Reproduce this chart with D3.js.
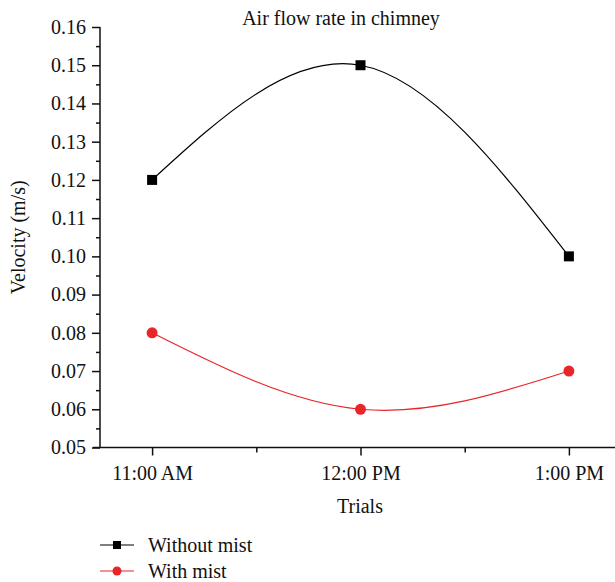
<!DOCTYPE html>
<html>
<head>
<meta charset="utf-8">
<script src="https://cdn.jsdelivr.net/npm/d3@7"></script>
<style>
  body { margin: 0; background: #fff; }
  svg text { font-family: "Liberation Serif", "DejaVu Serif", serif; fill: #111; }
  .axis path, .axis line { stroke: #111; stroke-width: 1.5; }
</style>
</head>
<body>
<div id="viz"></div>
<script>
// Data
const trials = ["11:00 AM", "12:00 PM", "1:00 PM"];
const withoutMist = [0.12, 0.15, 0.10];
const withMist = [0.08, 0.06, 0.07];
const yTicks = [0.05, 0.06, 0.07, 0.08, 0.09, 0.10, 0.11, 0.12, 0.13, 0.14, 0.15, 0.16];
const seriesNames = ["Without mist", "With mist"];

// Geometry
const width = 615, height = 582;
const plotLeft = 100, plotRight = 621, plotTop = 27, plotBottom = 447.5;
const fontSize = "20px";

const svg = d3.select("#viz").append("svg")
  .attr("width", width).attr("height", height);

const x = d3.scaleLinear().domain([-0.25, 2.25]).range([plotLeft, plotRight]);
const y = d3.scaleLinear().domain([0.05, 0.16]).range([plotBottom, plotTop]);

// minor ticks
const yMinor = d3.range(0.055, 0.16, 0.01);
svg.append("g").attr("class", "axis")
  .attr("transform", "translate(" + plotLeft + ",0)")
  .call(d3.axisLeft(y).tickValues(yMinor).tickSize(4).tickFormat(""))
  .call(g => g.select(".domain").remove());
svg.append("g").attr("class", "axis")
  .attr("transform", "translate(0," + plotBottom + ")")
  .call(d3.axisBottom(x).tickValues([0.5, 1.5]).tickSize(5).tickFormat(""))
  .call(g => g.select(".domain").remove());

// Y axis
const yAxisG = svg.append("g").attr("class", "axis")
  .attr("transform", "translate(" + plotLeft + ",0)")
  .call(d3.axisLeft(y).tickValues(yTicks).tickSize(8).tickPadding(6)
    .tickFormat(d3.format(".2f")).tickSizeOuter(0));
yAxisG.selectAll("text").style("font-size", fontSize).attr("fill", "#111");
yAxisG.select(".domain").attr("d", "M0," + plotBottom + "V" + plotTop);

// X axis
const xAxisG = svg.append("g").attr("class", "axis")
  .attr("transform", "translate(0," + plotBottom + ")")
  .call(d3.axisBottom(x).tickValues([0, 1, 2]).tickSize(8).tickPadding(10)
    .tickFormat(i => trials[i]).tickSizeOuter(0));
xAxisG.selectAll("text").style("font-size", fontSize).attr("fill", "#111");
xAxisG.select(".domain").attr("d", "M" + (plotLeft - 7) + ",0H" + plotRight);

// Labels
svg.append("text").attr("x", 341).attr("y", 25)
  .attr("text-anchor", "middle").style("font-size", fontSize)
  .text("Air flow rate in chimney");
svg.append("text").attr("x", 360).attr("y", 513)
  .attr("text-anchor", "middle").style("font-size", fontSize).text("Trials");
svg.append("text").attr("transform", "translate(25," + ((plotTop + plotBottom) / 2) + ") rotate(-90)")
  .attr("text-anchor", "middle").style("font-size", fontSize).text("Velocity (m/s)");

// Lines
const line = d3.line().x((d, i) => x(i)).y(d => y(d)).curve(d3.curveNatural);
svg.append("path").attr("d", line(withoutMist))
  .attr("fill", "none").attr("stroke", "#000").attr("stroke-width", 1.2);
svg.append("path").attr("d", line(withMist))
  .attr("fill", "none").attr("stroke", "#e8262a").attr("stroke-width", 1.2);

// Markers
svg.selectAll(".sq").data(withoutMist).enter().append("rect")
  .attr("x", (d, i) => x(i) - 5).attr("y", d => y(d) - 5)
  .attr("width", 10).attr("height", 10).attr("fill", "#000");
svg.selectAll(".ci").data(withMist).enter().append("circle")
  .attr("cx", (d, i) => x(i)).attr("cy", d => y(d)).attr("r", 5.5)
  .attr("fill", "#e8262a");

// Legend
const legend = svg.append("g");
seriesNames.forEach((name, k) => {
  const ly = 545 + k * 26;
  const col = k === 0 ? "#000" : "#e8262a";
  legend.append("line").attr("x1", 100).attr("x2", 134).attr("y1", ly).attr("y2", ly)
    .attr("stroke", col).attr("stroke-width", 1.2);
  if (k === 0) {
    legend.append("rect").attr("x", 113).attr("y", ly - 4).attr("width", 8).attr("height", 8).attr("fill", col);
  } else {
    legend.append("circle").attr("cx", 117).attr("cy", ly).attr("r", 4.5).attr("fill", col);
  }
  legend.append("text").attr("x", 148).attr("y", ly + 7).style("font-size", fontSize).text(name);
});
</script>
</body>
</html>
